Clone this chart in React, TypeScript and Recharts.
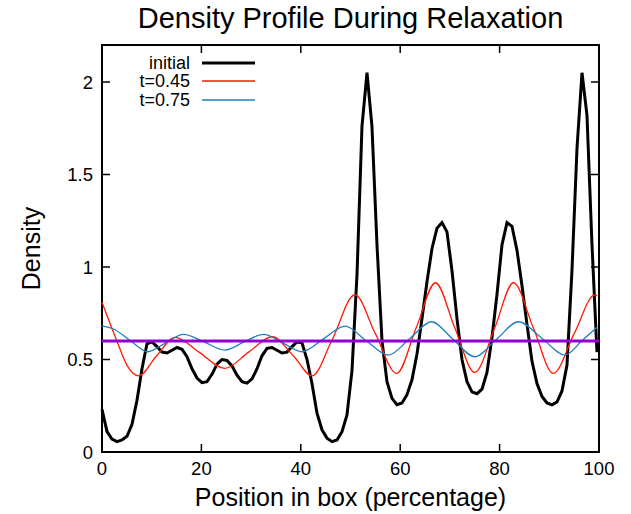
import React from 'react';
import { LineChart, Line, XAxis, YAxis, ReferenceLine, ReferenceArea } from 'recharts';

// sample positions of the initial profile (percent of box)
const POSITIONS = [
  0, 1.01, 2.01, 3.02, 4.02, 5.03, 6.04, 7.04, 8.05, 9.05,
  10.06, 11.07, 12.07, 13.08, 14.08, 15.09, 16.1, 17.1, 18.11, 19.11,
  20.12, 21.13, 22.13, 23.14, 24.14, 25.15, 26.16, 27.16, 28.17, 29.17,
  30.18, 31.19, 32.19, 33.2, 34.2, 35.21, 36.22, 37.22, 38.23, 39.23,
  40.24, 41.25, 42.25, 43.26, 44.26, 45.27, 46.28, 47.28, 48.29, 49.29,
  50.3, 51.31, 52.31, 53.32, 54.32, 55.33, 56.34, 57.34, 58.35, 59.35,
  60.36, 61.37, 62.37, 63.38, 64.38, 65.39, 66.4, 67.4, 68.41, 69.41,
  70.42, 71.43, 72.43, 73.44, 74.44, 75.45, 76.46, 77.46, 78.47, 79.47,
  80.48, 81.49, 82.49, 83.5, 84.5, 85.51, 86.52, 87.52, 88.53, 89.53,
  90.54, 91.55, 92.55, 93.56, 94.56, 95.57, 96.58, 97.58, 98.59, 99.59,
];

const INITIAL = [
  0.23, 0.11, 0.07, 0.056, 0.065, 0.085, 0.15, 0.28, 0.45, 0.585,
  0.595, 0.57, 0.54, 0.535, 0.55, 0.565, 0.555, 0.515, 0.45, 0.4,
  0.375, 0.38, 0.42, 0.475, 0.5, 0.495, 0.465, 0.415, 0.38, 0.372,
  0.395, 0.45, 0.52, 0.56, 0.565, 0.55, 0.535, 0.54, 0.57, 0.595,
  0.59, 0.5, 0.37, 0.21, 0.12, 0.075, 0.056, 0.065, 0.11, 0.2,
  0.44, 0.96, 1.76, 2.05, 1.76, 1.12, 0.6, 0.38, 0.29, 0.256,
  0.265, 0.31, 0.39, 0.53, 0.72, 0.92, 1.1, 1.21, 1.24, 1.19,
  0.98, 0.72, 0.5, 0.38, 0.325, 0.315, 0.34, 0.43, 0.62, 0.85,
  1.12, 1.24, 1.22, 1.09, 0.9, 0.69, 0.49, 0.37, 0.3, 0.265,
  0.255, 0.27, 0.33, 0.47, 0.98, 1.64, 2.05, 1.82, 1.12, 0.54,
];

const T045_X = [0, 3, 5, 7.4, 11, 14.7, 19.5, 24.7, 29.5, 34.3, 38.5, 42.3, 46.2, 50.9, 55, 59.3, 63.2, 67.1, 71, 75, 79, 82.8, 86.8, 90.8, 95, 99.2, 99.6];
const T045_Y = [0.81, 0.6, 0.47, 0.412, 0.52, 0.62, 0.54, 0.452, 0.54, 0.623, 0.52, 0.412, 0.6, 0.85, 0.64, 0.425, 0.67, 0.915, 0.67, 0.43, 0.67, 0.915, 0.67, 0.425, 0.64, 0.85, 0.845];

const T075_X = [0, 2.3, 5.8, 9.2, 12.8, 16.4, 20.5, 24.7, 28.6, 32.5, 36.4, 40.2, 44.5, 48.9, 53.2, 57.6, 62, 66.3, 70.6, 75, 79.4, 83.8, 88.5, 93.2, 96.5, 99.6];
const T075_Y = [0.68, 0.665, 0.6, 0.542, 0.59, 0.636, 0.595, 0.551, 0.595, 0.636, 0.59, 0.542, 0.61, 0.68, 0.6, 0.524, 0.615, 0.704, 0.61, 0.515, 0.61, 0.704, 0.615, 0.524, 0.6, 0.674];

const MEAN_DENSITY = 0.6;
const X_TICKS = [0, 20, 40, 60, 80, 100];
const Y_TICKS = [0, 0.5, 1, 1.5, 2];

const LEGEND_ITEMS = [
  { label: 'initial', color: '#000000', width: 3 },
  { label: 't=0.45', color: '#ff1a00', width: 1.4 },
  { label: 't=0.75', color: '#1f7fbf', width: 1.4 },
];

const initialData = POSITIONS.map((x, i) => ({ x, y: INITIAL[i] }));
const t045Data = T045_X.map((x, i) => ({ x, y: T045_Y[i] }));
const t075Data = T075_X.map((x, i) => ({ x, y: T075_Y[i] }));

const FONT = '"Liberation Sans", Arial, sans-serif';
const PLOT_TOP = 45;
const PLOT_BOTTOM = 452;
const PLOT_LEFT = 102;
const PLOT_RIGHT = 599;

const XTick = (props: any) => {
  const { x, payload } = props;
  return (
    <g>
      <line x1={x} x2={x} y1={PLOT_BOTTOM} y2={PLOT_BOTTOM - 8} stroke="#000" strokeWidth={1.5} />
      <line x1={x} x2={x} y1={PLOT_TOP} y2={PLOT_TOP + 8} stroke="#000" strokeWidth={1.5} />
      <text x={x} y={PLOT_BOTTOM + 23} textAnchor="middle" fontSize={18.5} fontFamily={FONT} fill="#000">
        {payload.value}
      </text>
    </g>
  );
};

const YTick = (props: any) => {
  const { y, payload } = props;
  return (
    <g>
      <line x1={PLOT_LEFT} x2={PLOT_LEFT + 8} y1={y} y2={y} stroke="#000" strokeWidth={1.5} />
      <line x1={PLOT_RIGHT} x2={PLOT_RIGHT - 8} y1={y} y2={y} stroke="#000" strokeWidth={1.5} />
      <text x={PLOT_LEFT - 9} y={y + 6.5} textAnchor="end" fontSize={18.5} fontFamily={FONT} fill="#000">
        {payload.value}
      </text>
    </g>
  );
};

export default function App() {
  return (
    <div style={{ position: 'absolute', left: 0, top: 0, width: 631, height: 514, background: '#fff' }}>
      <LineChart width={631} height={514} margin={{ top: PLOT_TOP, right: 631 - PLOT_RIGHT, bottom: 0, left: 0 }}>
        <XAxis
          dataKey="x" type="number" domain={[0, 100]} ticks={X_TICKS}
          height={514 - PLOT_BOTTOM} axisLine={false} tickLine={false} tick={<XTick />}
          label={{ value: 'Position in box (percentage)', position: 'insideBottom', offset: 8, style: { fontSize: 25, fontFamily: FONT, fill: '#000' } }}
        />
        <YAxis
          type="number" domain={[0, 2.2]} ticks={Y_TICKS} width={PLOT_LEFT}
          axisLine={false} tickLine={false} tick={<YTick />}
          label={{ value: 'Density', angle: -90, position: 'insideLeft', offset: 31, style: { fontSize: 25, fontFamily: FONT, fill: '#000', textAnchor: 'middle' } }}
        />
        <ReferenceArea x1={0} x2={100} y1={0} y2={2.2} fill="none" stroke="#000" strokeWidth={2} />
        <Line data={initialData} dataKey="y" type="linear" stroke="#000000" strokeWidth={3} dot={false} isAnimationActive={false} />
        <Line data={t045Data} dataKey="y" type="monotone" stroke="#ff1a00" strokeWidth={1.3} dot={false} isAnimationActive={false} />
        <Line data={t075Data} dataKey="y" type="monotone" stroke="#1f7fbf" strokeWidth={1.3} dot={false} isAnimationActive={false} />
        <ReferenceLine y={MEAN_DENSITY} stroke="#9400d3" strokeWidth={3} />
      </LineChart>
      <div
        style={{
          position: 'absolute', left: PLOT_LEFT, width: PLOT_RIGHT - PLOT_LEFT, top: 4,
          textAlign: 'center', fontFamily: FONT, fontSize: 29, lineHeight: '29px', color: '#000',
        }}
      >
        Density Profile During Relaxation
      </div>
      <div style={{ position: 'absolute', left: 100, top: 53.3, fontFamily: FONT, fontSize: 18, color: '#000' }}>
        {LEGEND_ITEMS.map((item) => (
          <div key={item.label} style={{ display: 'flex', alignItems: 'center', height: 18.7 }}>
            <span style={{ width: 90, textAlign: 'right', lineHeight: '18px' }}>{item.label}</span>
            <svg width={65} height={10} style={{ display: 'block' }}>
              <line x1={12} x2={65} y1={5} y2={5} stroke={item.color} strokeWidth={item.width} />
            </svg>
          </div>
        ))}
      </div>
    </div>
  );
}
